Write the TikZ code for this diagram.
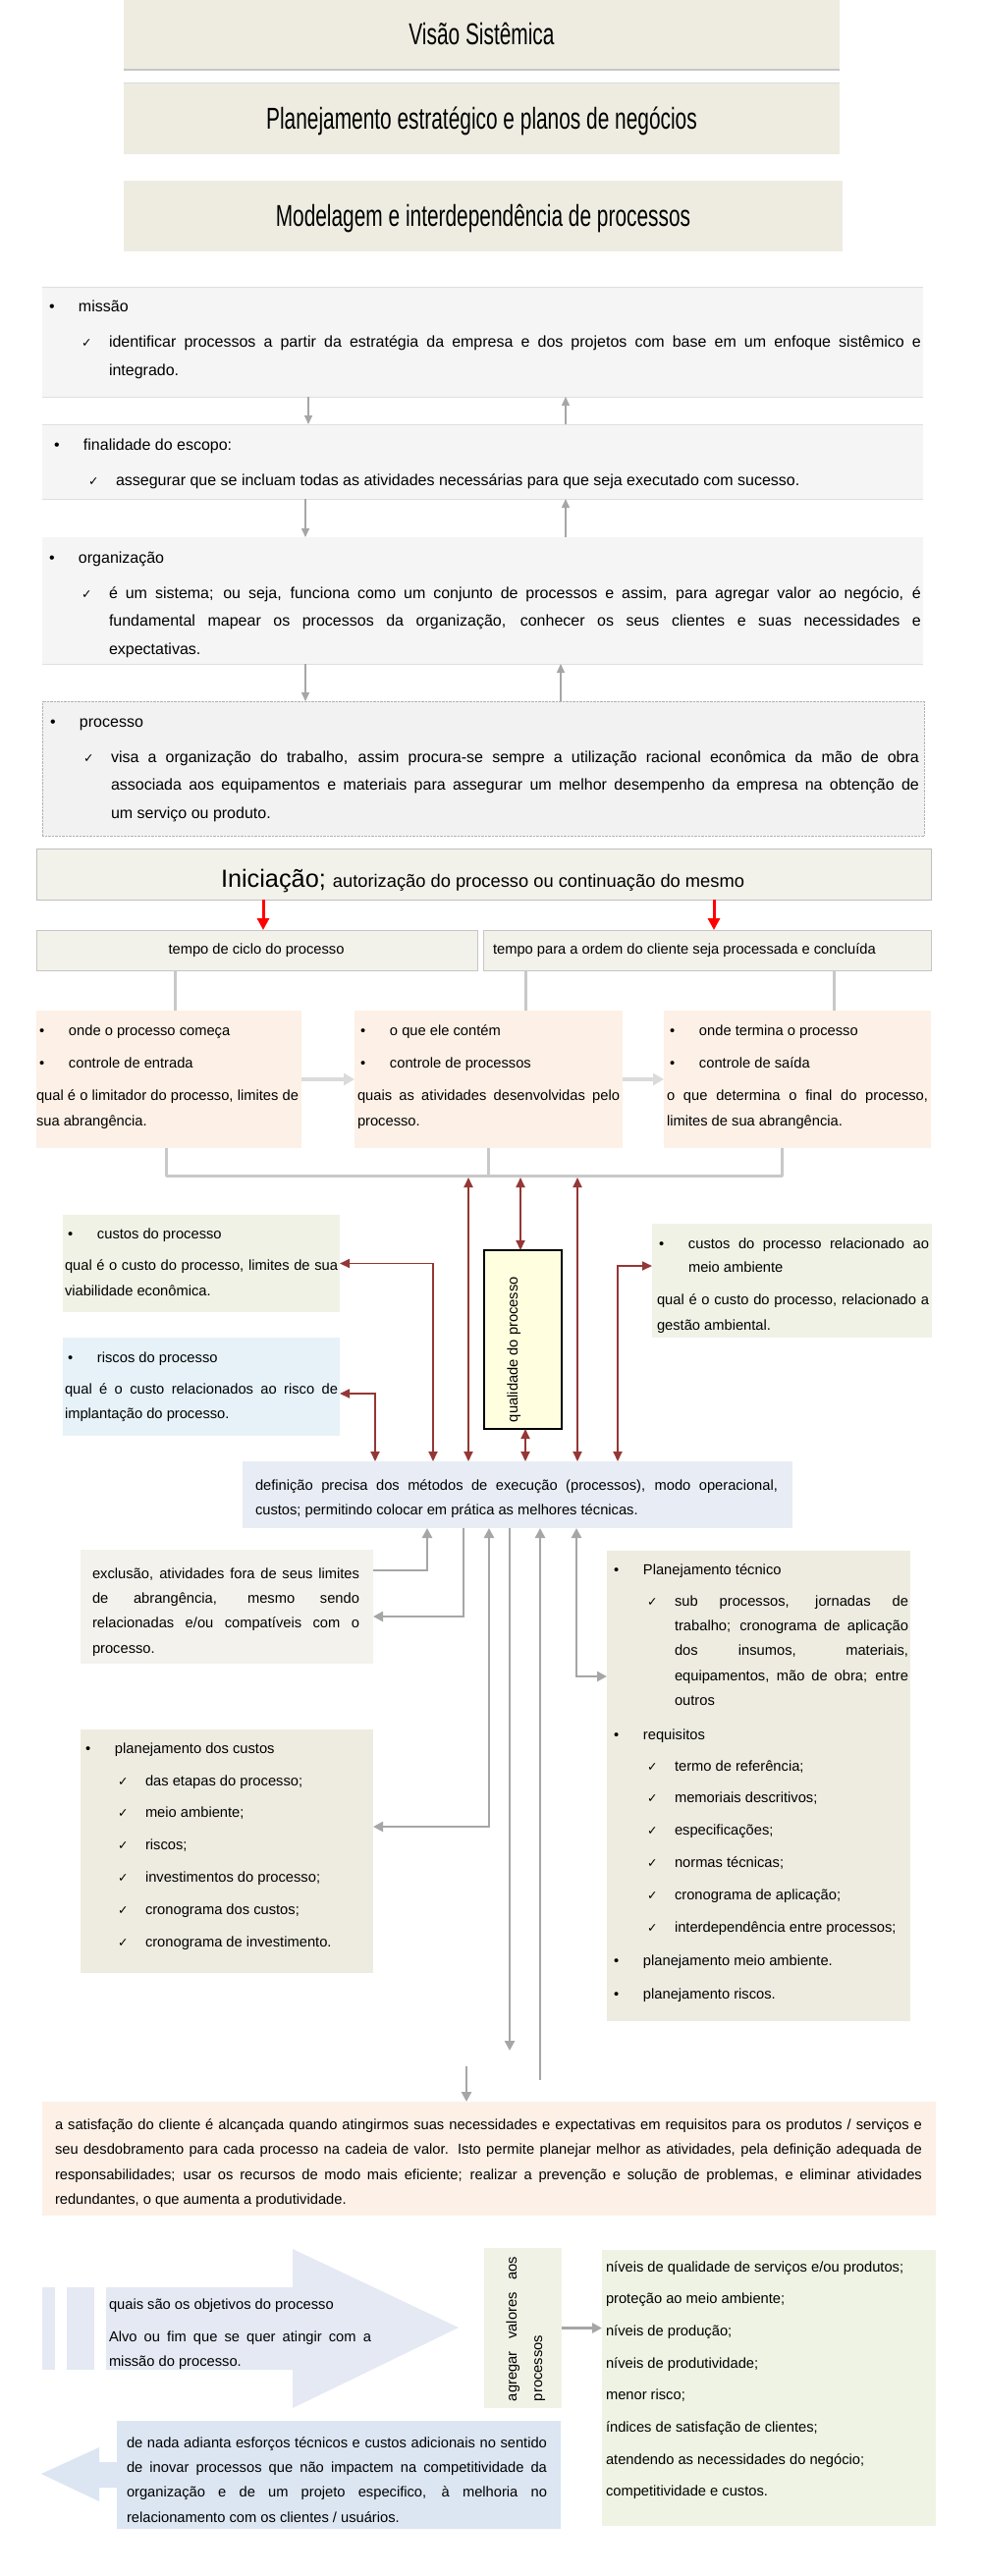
\documentclass[tikz,border=0pt]{standalone}
\usepackage{fontspec}
\usepackage{graphicx}
\setmainfont{Liberation Sans}
\newfontfamily\dejavu{DejaVu Sans}
\usetikzlibrary{arrows.meta}
\definecolor{tan}{HTML}{EEECE1}
\definecolor{tantwo}{HTML}{F2F1EA}
\definecolor{lgray}{HTML}{F5F5F5}
\definecolor{lgraytwo}{HTML}{F2F2F2}
\definecolor{peach}{HTML}{FDF0E6}
\definecolor{lgreen}{HTML}{F0F2E6}
\definecolor{lgreentwo}{HTML}{EFF3E4}
\definecolor{lblue}{HTML}{E6F2F8}
\definecolor{lyellow}{HTML}{FFFFE0}
\definecolor{lbluegray}{HTML}{E8EDF5}
\definecolor{ltan}{HTML}{F3F2EC}
\definecolor{arrR}{HTML}{E4E9F3}
\definecolor{arrL}{HTML}{DCE6F2}
\definecolor{dred}{HTML}{953735}
\definecolor{gsix}{HTML}{A6A6A6}
\definecolor{lgc}{HTML}{C8C8C8}
\newcommand\bx[6]{\node[box,minimum width={#4-#2},minimum height={#5-#3},#6] (#1) at (#2,#3) {};}
\newcommand\tx[6]{\node[txt] (#1) at (#2,#3) {\parbox[t]{990pt}{\fontsize{#4}{#5}\selectfont #6}};}
\newcommand\jl[2]{\makebox[#1pt][s]{#2}}
\newcommand\bul{\leavevmode\llap{\makebox[30pt][l]{•}}}
\newcommand\chk{\leavevmode\llap{\makebox[28pt][l]{\dejavu\fontsize{12.5}{12.5}\selectfont ✓}}}
\newcommand\ttl[1]{\fontsize{30.7}{36}\selectfont\scalebox{0.68}[1]{#1}}
\begin{document}
\begin{tikzpicture}[x=1pt,y=-1pt,
  box/.style={inner sep=0pt,outer sep=0pt,anchor=north west},
  txt/.style={inner sep=0pt,outer sep=0pt,anchor=base west},
  rarr/.style={draw=dred,line width=1.8pt,arrows={Triangle[length=10pt,width=9pt]-Triangle[length=10pt,width=9pt]}},
  tarr/.style={draw=gsix,line width=1.5pt,arrows={-Triangle[length=9pt,width=8pt]}},
  garr/.style={draw=gsix,line width=2.5pt,arrows={-Triangle[length=10pt,width=10pt]}},
  gdarr/.style={draw=gsix,line width=2.5pt,arrows={Triangle[length=10pt,width=10pt]-Triangle[length=10pt,width=10pt]}},
  lg/.style={draw=lgc,line width=3pt},
  habr/.style={draw=gray!28,line width=3.5pt,arrows={-Triangle[length=11pt,width=12pt]}},
  bigred/.style={draw=red,line width=3pt,arrows={-Triangle[length=12pt,width=12pt]}}]
\useasboundingbox[fill=white] (0,0) rectangle (1000,2623);

% ---- titles
\bx{tbone}{126}{0}{855}{71}{fill=tan}
\draw[gray!45,line width=1.2pt] (tbone.south west) -- (tbone.south east);
\bx{tbtwo}{126}{84}{855}{157}{fill=tan}
\draw[gray!30,line width=1pt] (tbtwo.north west) -- (tbtwo.north east);
\bx{tbthree}{126}{184}{858}{256}{fill=tan}
\node[txt,anchor=base] (ttone) at (490.5,45) {\ttl{Visão Sistêmica}};
\node[txt,anchor=base] (tttwo) at (490.5,131) {\ttl{Planejamento estratégico e planos de negócios}};
\node[txt,anchor=base] (ttthree) at (492,230) {\ttl{Modelagem e interdependência de processos}};

% ---- top section
\bx{missao}{43}{292}{940}{404}{fill=lgray}
\draw[gray!25,line width=1pt] (missao.north west) -- (missao.north east) (missao.south west) -- (missao.south east);
\tx{mone}{80}{317}{16}{28.5}{\bul missão}
\tx{mtwo}{111}{353}{16}{29}{\chk\jl{827}{identificar processos a partir da estratégia da empresa e dos projetos com base em um enfoque sistêmico e}\\integrado.}
\bx{finalid}{43}{432}{940}{508}{fill=lgray}
\draw[gray!25,line width=1pt] (finalid.north west) -- (finalid.north east) (finalid.south west) -- (finalid.south east);
\tx{fone}{85}{458}{16}{28.5}{\bul finalidade do escopo:}
\tx{ftwo}{118}{494}{16}{28.5}{\chk assegurar que se incluam todas as atividades necessárias para que seja executado com sucesso.}
\bx{organ}{43}{547}{940}{676}{fill=lgray}
\draw[gray!25,line width=1pt] (organ.south west) -- (organ.south east);
\tx{oone}{80}{573}{16}{28.5}{\bul organização}
\tx{otwo}{111}{609}{16}{28.5}{\chk\jl{827}{é um sistema; ou seja, funciona como um conjunto de processos e assim, para agregar valor ao negócio, é}\\\jl{827}{fundamental mapear os processos da organização, conhecer os seus clientes e suas necessidades e}\\expectativas.}
\bx{proc}{43}{714}{941}{851}{fill=lgraytwo,draw=gray!60,densely dotted}
\tx{pone}{81}{740}{16}{28.5}{\bul processo}
\tx{ptwo}{113}{776}{16}{28.5}{\chk\jl{823}{visa a organização do trabalho, assim procura-se sempre a utilização racional econômica da mão de obra}\\\jl{823}{associada aos equipamentos e materiais para assegurar um melhor desempenho da empresa na obtenção de}\\um serviço ou produto.}

\coordinate (ta) at (314,0); \coordinate (tb) at (576,0);
\coordinate (tc) at (311,0); \coordinate (td) at (571,0);
\draw[tarr] (missao.south -| ta) -- (finalid.north -| ta);
\draw[tarr] (finalid.north -| tb) -- (missao.south -| tb);
\draw[tarr] (finalid.south -| tc) -- (organ.north -| tc);
\draw[tarr] (organ.north -| tb) -- (finalid.south -| tb);
\draw[tarr] (organ.south -| tc) -- (proc.north -| tc);
\draw[tarr] (proc.north -| td) -- (organ.south -| td);

% ---- initiation
\bx{inic}{37}{864}{948}{916}{fill=tantwo,draw=gray!50,line width=1pt}
\node[txt] (inict) at (225,903) {{\fontsize{25.3}{30}\selectfont Iniciação; }{\fontsize{18.3}{22}\selectfont autorização do processo ou continuação do mesmo}};
\bx{tempoone}{37}{947}{486}{988}{fill=tantwo,draw=gray!45,line width=1pt}
\bx{tempotwo}{492}{947}{948}{988}{fill=tantwo,draw=gray!45,line width=1pt}
\node[txt,anchor=base] (tempoonet) at (261,971) {\fontsize{14.7}{18}\selectfont tempo de ciclo do processo};
\node[txt] (tempotwot) at (502,971) {\fontsize{14.7}{18}\selectfont tempo para a ordem do cliente seja processada e concluída};
\coordinate (ra) at (268,0); \coordinate (rb) at (727,0);
\draw[bigred] (inic.south -| ra) -- (tempoone.north -| ra);
\draw[bigred] (inic.south -| rb) -- (tempotwo.north -| rb);

\bx{boxA}{37}{1029}{307}{1169}{fill=peach}
\bx{boxB}{361}{1029}{634}{1169}{fill=peach}
\bx{boxC}{676}{1029}{948}{1169}{fill=peach}
\tx{aone}{70}{1054}{14.7}{33}{\bul onde o processo começa\\\bul controle de entrada}
\tx{atwo}{37}{1120}{14.7}{26}{\jl{267}{qual é o limitador do processo, limites de}\\sua abrangência.}
\tx{bone}{397}{1054}{14.7}{33}{\bul o que ele contém\\\bul controle de processos}
\tx{btwo}{364}{1120}{14.7}{26}{\jl{267}{quais as atividades desenvolvidas pelo}\\processo.}
\tx{cone}{712}{1054}{14.7}{33}{\bul onde termina o processo\\\bul controle de saída}
\tx{ctwo}{679}{1120}{14.7}{26}{\jl{266}{o que determina o final do processo,}\\limites de sua abrangência.}
\draw[habr] (boxA.east) -- (boxB.west);
\draw[habr] (boxB.east) -- (boxC.west);

\coordinate (xa) at (178,0); \coordinate (xb) at (535,0); \coordinate (xc) at (849,0);
\draw[lg] (tempoone.south -| xa) -- (boxA.north -| xa);
\draw[lg] (tempotwo.south -| xb) -- (boxB.north -| xb);
\draw[lg] (tempotwo.south -| xc) -- (boxC.north -| xc);
\coordinate (hb) at (0,1197);
\coordinate (xd) at (169,0); \coordinate (xe) at (497,0); \coordinate (xf) at (796,0);
\draw[lg,line join=round] (boxA.south -| xd) -- (hb -| xd) -- (hb -| xf) -- (boxC.south -| xf);
\draw[lg] (boxB.south -| xe) -- (hb -| xe);

% ---- middle boxes
\bx{custos}{64}{1237}{346}{1336}{fill=lgreen}
\tx{cuone}{99}{1261}{14.7}{26}{\bul custos do processo}
\tx{cutwo}{66}{1293}{14.7}{26}{\jl{278}{qual é o custo do processo, limites de sua}\\viabilidade econômica.}
\bx{riscos}{64}{1362}{346}{1462}{fill=lblue}
\tx{rione}{99}{1387}{14.7}{26}{\bul riscos do processo}
\tx{ritwo}{66}{1419}{14.7}{25}{\jl{278}{qual é o custo relacionados ao risco de}\\implantação do processo.}
\bx{rbox}{664}{1246}{949}{1362}{fill=lgreen}
\tx{rbone}{701}{1271}{14.7}{24.5}{\bul\jl{245}{custos do processo relacionado ao}\\meio ambiente}
\tx{rbtwo}{669}{1328}{14.7}{26}{\jl{277}{qual é o custo do processo, relacionado a}\\gestão ambiental.}
\bx{qual}{493}{1273}{572}{1455}{fill=lyellow,draw=black,line width=1.2pt}
\node[txt,rotate=90] (qualt) at (527,1448) {\fontsize{14.7}{18}\selectfont qualidade do processo};
\bx{defi}{247}{1488}{807}{1556}{fill=lbluegray}
\tx{deone}{260}{1517}{14.7}{25.5}{\jl{532}{definição precisa dos métodos de execução (processos), modo operacional,}\\custos; permitindo colocar em prática as melhores técnicas.}

\coordinate (hr) at (0,1199);
\coordinate (rone) at (477,0); \coordinate (rtwo) at (530,0); \coordinate (rthree) at (588,0);
\coordinate (rfour) at (535,0); \coordinate (rfive) at (441,0); \coordinate (rsix) at (382,0);
\coordinate (rseven) at (629,0);
\draw[rarr] (hr -| rone) -- (defi.north -| rone);
\draw[rarr] (hr -| rtwo) -- (qual.north -| rtwo);
\draw[rarr] (hr -| rthree) -- (defi.north -| rthree);
\draw[rarr] (qual.south -| rfour) -- (defi.north -| rfour);
\draw[rarr] (defi.north -| rfive) |- (custos.east);
\draw[rarr] (defi.north -| rsix) |- ([yshift=-7pt]riscos.east);
\draw[rarr] (defi.north -| rseven) |- ([yshift=15pt]rbox.west);

% ---- lower boxes
\bx{excl}{82}{1578}{380}{1694}{fill=ltan}
\tx{ex}{94}{1607}{14.7}{25.4}{\jl{272}{exclusão, atividades fora de seus limites}\\\jl{272}{de abrangência, mesmo sendo}\\\jl{272}{relacionadas e/ou compatíveis com o}\\processo.}
\bx{ptec}{618}{1579}{927}{2058}{fill=tan}
\tx{ptone}{655}{1603}{14.7}{26}{\bul Planejamento técnico}
\tx{pttwo}{687}{1635}{14.7}{25.4}{\chk\jl{238}{sub processos, jornadas de}\\\jl{238}{trabalho; cronograma de aplicação}\\\jl{238}{dos insumos, materiais,}\\\jl{238}{equipamentos, mão de obra; entre}\\outros}
\tx{ptthree}{655}{1771}{14.7}{26}{\bul requisitos}
\tx{ptfour}{687}{1803}{14.7}{32.8}{\chk termo de referência;\\\chk memoriais descritivos;\\\chk especificações;\\\chk normas técnicas;\\\chk cronograma de aplicação;\\\chk interdependência entre processos;}
\tx{ptfive}{655}{2001}{14.7}{34}{\bul planejamento meio ambiente.\\\bul planejamento riscos.}
\bx{pcust}{82}{1761}{380}{2009}{fill=tan}
\tx{pcone}{117}{1785}{14.7}{26}{\bul planejamento dos custos}
\tx{pctwo}{148}{1818}{14.7}{32.8}{\chk das etapas do processo;\\\chk meio ambiente;\\\chk riscos;\\\chk investimentos do processo;\\\chk cronograma dos custos;\\\chk cronograma de investimento.}

\coordinate (gone) at (435,0); \coordinate (gtwo) at (472,0); \coordinate (gthree) at (498,0);
\coordinate (gsixc) at (587,0);
\coordinate (gfour) at (519,2088); \coordinate (gfive) at (550,2118); \coordinate (gseven) at (475,2104);
\draw[garr] ([yshift=37pt]excl.east) -| (defi.south -| gone);
\draw[garr] (defi.south -| gtwo) |- ([yshift=-10pt]excl.east);
\draw[gdarr] (defi.south -| gthree) |- ([yshift=25pt]pcust.east);
\draw[garr] (defi.south -| gfour) -- (gfour);
\draw[garr] (gfive) -- (defi.south -| gfive);
\draw[gdarr] (defi.south -| gsixc) |- ([yshift=111.5pt]ptec.west);

\bx{satis}{43}{2140}{953}{2256}{fill=peach}
\draw[garr] (gseven) -- (satis.north -| gseven);
\tx{sa}{56}{2168}{14.7}{25.6}{\jl{883}{a satisfação do cliente é alcançada quando atingirmos suas necessidades e expectativas em requisitos para os produtos / serviços e}\\\jl{883}{seu desdobramento para cada processo na cadeia de valor. Isto permite planejar melhor as atividades, pela definição adequada de}\\\jl{883}{responsabilidades; usar os recursos de modo mais eficiente; realizar a prevenção e solução de problemas, e eliminar atividades}\\redundantes, o que aumenta a produtividade.}

% ---- bottom
\fill[arrR] (43,2329) rectangle (56,2413);
\fill[arrR] (68,2329) rectangle (96,2413);
\fill[arrR] (108,2329) -- (298,2329) -- (298,2290) -- (467,2370) -- (298,2452) -- (298,2413) -- (108,2413) -- cycle;
\tx{raone}{111}{2351}{14.7}{33}{quais são os objetivos do processo}
\tx{ratwo}{111}{2384}{14.7}{25}{\jl{267}{Alvo ou fim que se quer atingir com a}\\missão do processo.}
\fill[arrL] (42,2519) -- (101,2492) -- (101,2507) -- (119,2507) -- (119,2465) -- (571,2465) -- (571,2575) -- (119,2575) -- (119,2533) -- (101,2533) -- (101,2547) -- cycle;
\tx{la}{129}{2492}{14.7}{25.4}{\jl{428}{de nada adianta esforços técnicos e custos adicionais no sentido}\\\jl{428}{de inovar processos que não impactem na competitividade da}\\\jl{428}{organização e de um projeto especifico, à melhoria no}\\relacionamento com os clientes / usuários.}
\bx{agreg}{493}{2289}{572}{2452}{fill=lgreen}
\node[txt,rotate=90] (agone) at (526,2445) {\fontsize{14.7}{18}\selectfont\jl{147}{agregar valores aos}};
\node[txt,rotate=90] (agtwo) at (552,2445) {\fontsize{14.7}{18}\selectfont processos};
\bx{niveis}{613}{2291}{953}{2572}{fill=lgreentwo}
\tx{nv}{617}{2313}{14.7}{32.7}{níveis de qualidade de serviços e/ou produtos;\\proteção ao meio ambiente;\\níveis de produção;\\níveis de produtividade;\\menor risco;\\índices de satisfação de clientes;\\atendendo as necessidades do negócio;\\competitividade e custos.}
\draw[garr] (agreg.east) -- (agreg.east -| niveis.west);
\end{tikzpicture}
\end{document}
